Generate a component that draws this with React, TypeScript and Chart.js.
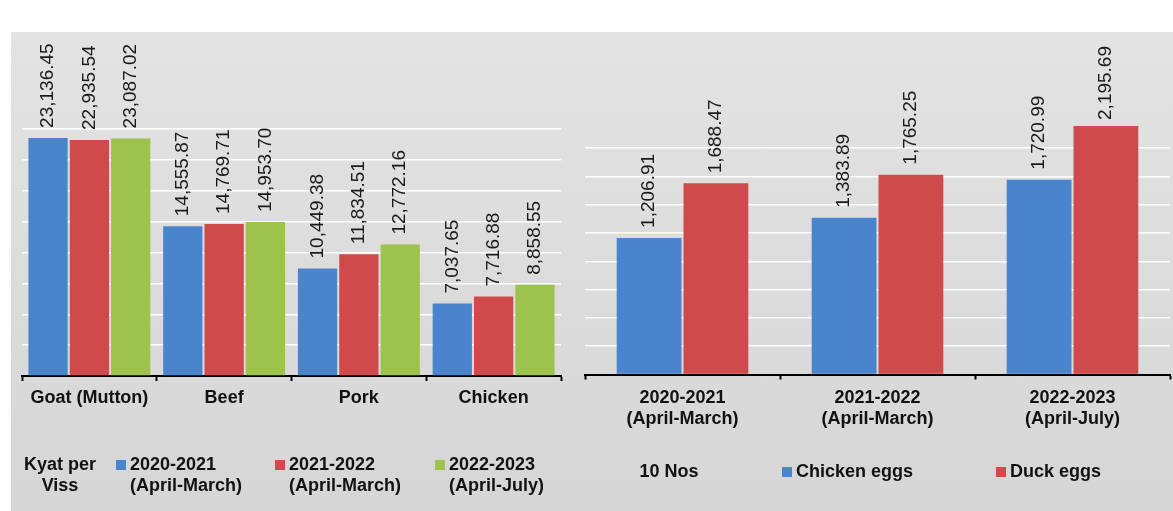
import React, { useEffect, useRef } from 'react';
import { Chart, registerables } from 'chart.js';

Chart.register(...registerables);

// ---------- data ----------
const meatCategories = ['Goat (Mutton)', 'Beef', 'Pork', 'Chicken'];
const meatSeriesNames = ['2020-2021\n(April-March)', '2021-2022\n(April-March)', '2022-2023\n(April-July)'];
const meat2020 = [23136.45, 14555.87, 10449.38, 7037.65];
const meat2021 = [22935.54, 14769.71, 11834.51, 7716.88];
const meat2022 = [23087.02, 14953.7, 12772.16, 8858.55];
const meatUnit = ['Kyat per', 'Viss'];
const meatAxisMax = 24000;
const meatAxisStep = 3000;

const eggCategories = [
  ['2020-2021', '(April-March)'],
  ['2021-2022', '(April-March)'],
  ['2022-2023', '(April-July)'],
];
const eggSeriesNames = ['Chicken eggs', 'Duck eggs'];
const chickenEggs = [1206.91, 1383.89, 1720.99];
const duckEggs = [1688.47, 1765.25, 2195.69];
const eggUnit = ['10 Nos'];
const eggAxisMax = 2500;
const eggAxisStep = 250;
const eggGridMax = 2000;

// ---------- styles ----------
const FONT = '"Liberation Sans", Arial, Helvetica, sans-serif';
const BLUE = '#4A84CC';
const RED = '#CF4A4A';
const GREEN = '#9DC24E';

const valueLabelPlugin = {
  id: 'valueLabels',
  afterDatasetsDraw(chart: any, _args: any, opts: any) {
    const ctx = chart.ctx;
    ctx.save();
    ctx.font = `${opts.size}px ${FONT}`;
    ctx.fillStyle = opts.color;
    chart.data.datasets.forEach((ds: any, i: number) => {
      const meta = chart.getDatasetMeta(i);
      meta.data.forEach((el: any, j: number) => {
        const v = ds.data[j];
        const text = v.toLocaleString('en-US', { minimumFractionDigits: 2, maximumFractionDigits: 2 });
        const w = ctx.measureText(text).width;
        let start = el.y - opts.gap;
        if (start - w < opts.minTop) start = opts.minTop + w;
        ctx.save();
        ctx.translate(el.x, start);
        ctx.rotate(-Math.PI / 2);
        ctx.textAlign = 'left';
        ctx.textBaseline = 'middle';
        ctx.fillText(text, 0, 0);
        ctx.restore();
      });
    });
    ctx.restore();
  },
};

const sideLegendPlugin = {
  id: 'sideLegend',
  afterDraw(chart: any, _args: any, opts: any) {
    const ctx = chart.ctx;
    ctx.save();
    ctx.font = `bold ${opts.size}px ${FONT}`;
    ctx.textBaseline = 'middle';
    ctx.fillStyle = '#111';
    ctx.textAlign = 'center';
    opts.unit.forEach((t: string, k: number) => ctx.fillText(t, opts.unitX, opts.unitY + k * opts.lineHeight));
    chart.data.datasets.forEach((ds: any, i: number) => {
      const x = opts.itemX[i];
      ctx.fillStyle = ds.backgroundColor;
      ctx.fillRect(x, opts.y - opts.box / 2, opts.box, opts.box);
      ctx.fillStyle = '#111';
      ctx.textAlign = 'left';
      String(ds.label)
        .split('\n')
        .forEach((line: string, k: number) => ctx.fillText(line, x + opts.box + 4, opts.y + k * opts.lineHeight));
    });
    ctx.restore();
  },
};

function buildOptions(cfg: any) {
  return {
    responsive: false,
    animation: false,
    layout: { padding: cfg.padding },
    plugins: {
      legend: { display: false },
      tooltip: { enabled: false },
      valueLabels: { size: 19, color: '#1a1a1a', gap: 10, minTop: cfg.minTop },
      sideLegend: cfg.legend,
    },
    scales: {
      x: {
        afterFit: (s: any) => {
          s.height = 60;
        },
        border: { display: true, color: '#000', width: 2 },
        grid: {
          drawOnChartArea: false,
          drawTicks: true,
          tickLength: 5,
          tickColor: '#000',
          tickWidth: 2,
        },
        ticks: {
          color: '#111',
          padding: cfg.tickPadding,
          maxRotation: 0,
          autoSkip: false,
          font: { family: FONT, size: 18, weight: 'bold', lineHeight: 1.17 },
        },
      },
      y: {
        min: 0,
        max: cfg.max,
        afterFit: (s: any) => {
          s.width = 0;
        },
        border: { display: false },
        ticks: { display: false, stepSize: cfg.step },
        grid: {
          drawTicks: false,
          lineWidth: 1.5,
          color: (c: any) => (c.tick && c.tick.value > cfg.gridMax ? 'rgba(0,0,0,0)' : '#ffffff'),
        },
      },
    },
  };
}

export default function App() {
  const leftRef = useRef<HTMLCanvasElement | null>(null);
  const rightRef = useRef<HTMLCanvasElement | null>(null);

  useEffect(() => {
    const left = new Chart(leftRef.current as HTMLCanvasElement, {
      type: 'bar',
      data: {
        labels: meatCategories,
        datasets: [
          { label: meatSeriesNames[0], data: meat2020, backgroundColor: BLUE },
          { label: meatSeriesNames[1], data: meat2021, backgroundColor: RED },
          { label: meatSeriesNames[2], data: meat2022, backgroundColor: GREEN },
        ].map((d) => ({ ...d, categoryPercentage: 0.92, barPercentage: 0.95 })),
      },
      options: buildOptions({
        padding: { left: 22, right: 14, top: 129, bottom: 75 },
        max: meatAxisMax,
        step: meatAxisStep,
        gridMax: meatAxisMax,
        minTop: 30,
        tickPadding: 7,
        legend: {
          size: 18,
          lineHeight: 21,
          unit: meatUnit,
          unitX: 60,
          unitY: 465,
          y: 465,
          box: 10,
          itemX: [116, 275, 435],
        },
      }) as any,
      plugins: [valueLabelPlugin, sideLegendPlugin],
    });

    const right = new Chart(rightRef.current as HTMLCanvasElement, {
      type: 'bar',
      data: {
        labels: eggCategories,
        datasets: [
          { label: eggSeriesNames[0], data: chickenEggs, backgroundColor: BLUE },
          { label: eggSeriesNames[1], data: duckEggs, backgroundColor: RED },
        ].map((d) => ({ ...d, categoryPercentage: 0.685, barPercentage: 0.97 })),
      },
      options: buildOptions({
        padding: { left: 10, right: 3, top: 91.5, bottom: 76.5 },
        max: eggAxisMax,
        step: eggAxisStep,
        gridMax: eggGridMax,
        minTop: 46,
        tickPadding: 8,
        legend: {
          size: 18,
          lineHeight: 21,
          unit: eggUnit,
          unitX: 94,
          unitY: 472,
          y: 472,
          box: 10,
          itemX: [207, 421],
        },
      }) as any,
      plugins: [valueLabelPlugin, sideLegendPlugin],
    });

    return () => {
      left.destroy();
      right.destroy();
    };
  }, []);

  return (
    <div
      style={{
        position: 'absolute',
        left: 0,
        top: 0,
        width: 1173,
        height: 511,
        background: '#ffffff',
        overflow: 'hidden',
      }}
    >
      <div
        style={{
          position: 'absolute',
          left: 11,
          top: 32,
          width: 1162,
          height: 479,
          background: 'linear-gradient(to bottom, #e3e3e3 0%, #dcdcdc 50%, #d6d6d6 100%)',
        }}
      />
      <canvas
        ref={leftRef}
        width={575}
        height={511}
        style={{ position: 'absolute', left: 0, top: 0, width: 575, height: 511 }}
      />
      <canvas
        ref={rightRef}
        width={598}
        height={511}
        style={{ position: 'absolute', left: 575, top: 0, width: 598, height: 511 }}
      />
    </div>
  );
}
